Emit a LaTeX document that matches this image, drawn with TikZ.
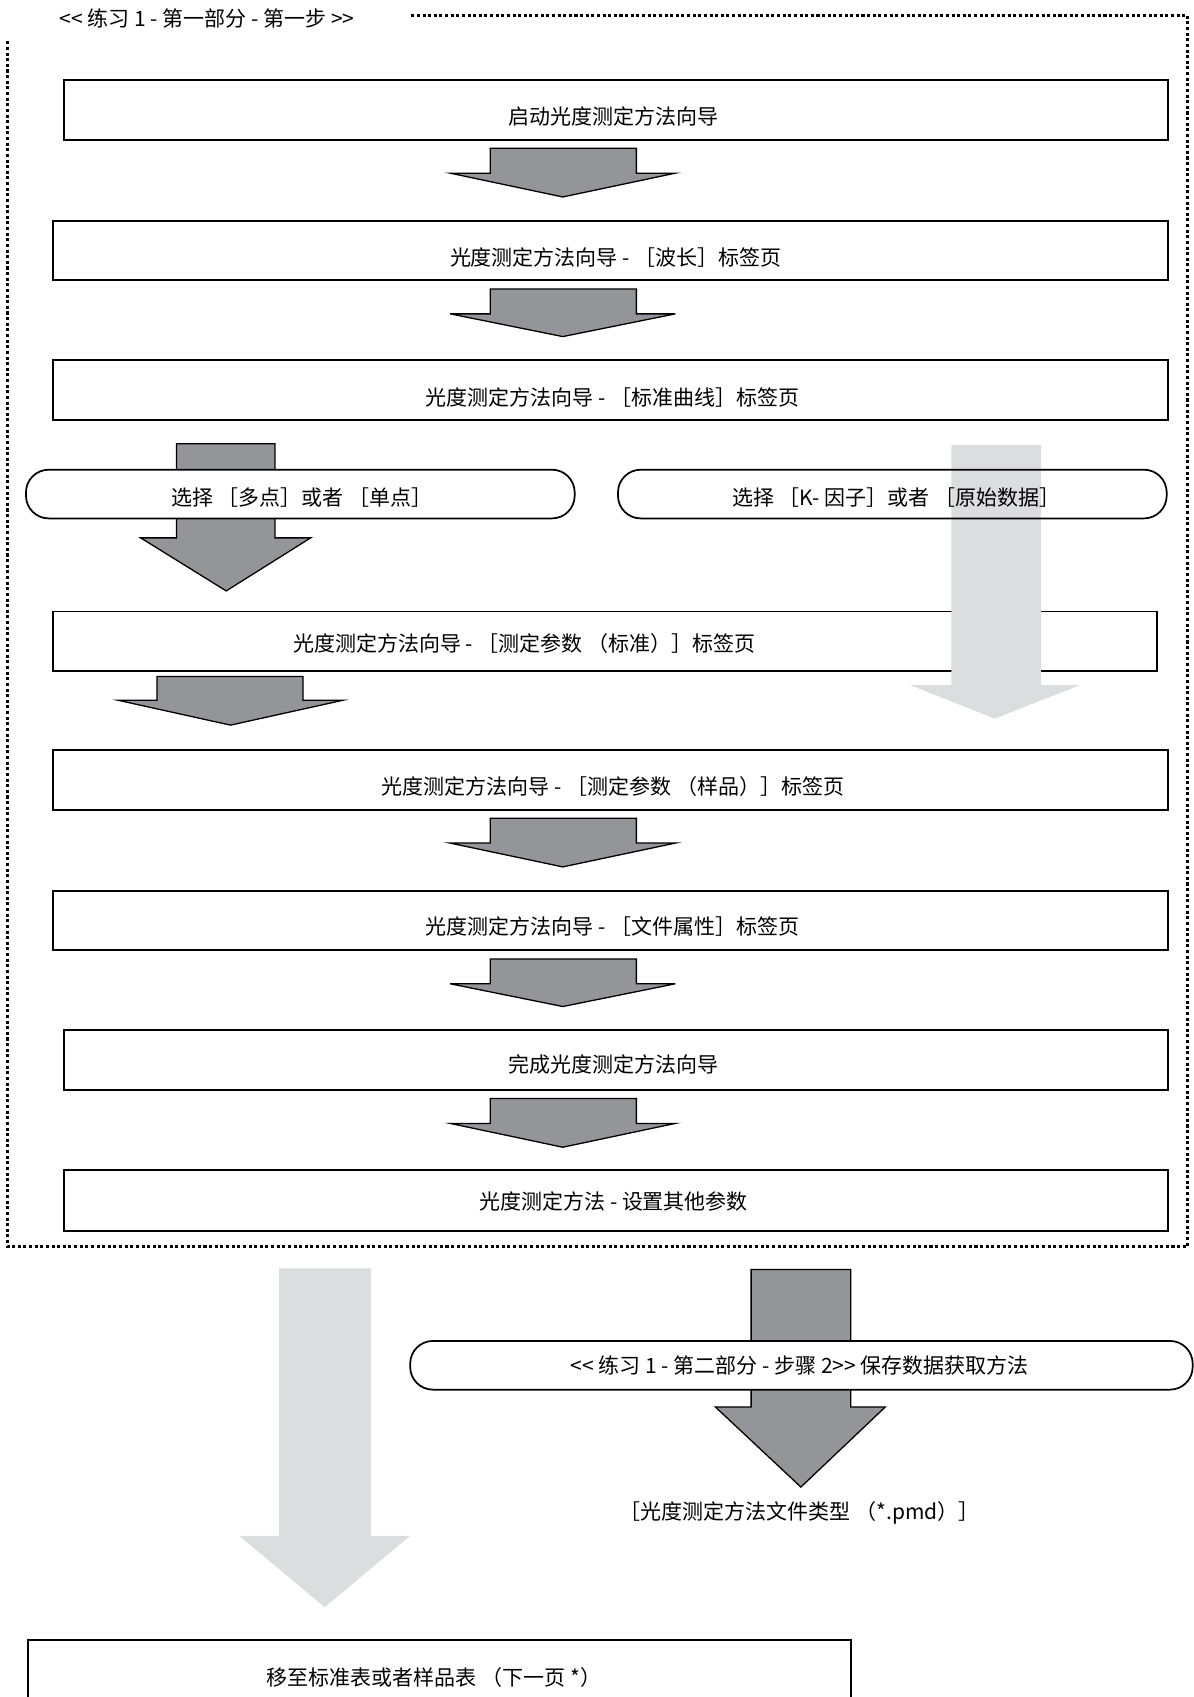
\documentclass[tikz,border=0pt]{standalone}
\usepackage{fontspec}
\newfontfamily\cjk{Noto Sans CJK SC}
\usetikzlibrary{fit}
\definecolor{darkarrow}{HTML}{939598}
\definecolor{lightarrow}{HTML}{DCDDDF}
\tikzset{
  box/.style={draw=black, line width=0.9pt, fill=white, inner sep=0pt},
  openbox/.style={draw=black, line width=0.9pt, inner sep=0pt},
  pill/.style={draw=black, line width=0.8pt, fill=white, rounded corners=10.5pt, inner sep=0pt},
  openpill/.style={draw=black, line width=0.8pt, rounded corners=10.5pt, inner sep=0pt},
  lbl/.style={font=\cjk\fontsize{9.7}{11}\selectfont, inner sep=0pt},
  frame/.style={line width=1.4pt, dash pattern=on 1.4pt off 1.2pt},
  darkarr/.style={fill=darkarrow, draw=black, line width=0.6pt, line join=miter},
  lightarr/.style={fill=lightarrow, draw=none},
}
% #1 style, #2 shaft left, #3 shaft right, #4 top, #5 shoulder, #6 head left, #7 head right, #8 tip x, #9 tip y
\newcommand{\blockarr}[9]{%
  \path[#1] (#2,#4) -- (#3,#4) -- (#3,#5) -- (#7,#5) -- (#8,#9) -- (#6,#5) -- (#2,#5) -- cycle;}
\begin{document}
\begin{tikzpicture}[x=0.5pt,y=-0.5pt]
\useasboundingbox (0,0) rectangle (1103,1568);
\clip (0,0) rectangle (1103,1568);

% dotted frame and its title
\draw[frame] (380,14) -- (1097,14) -- (1097,1152) -- (7,1152) -- (7,38);
\node[lbl] (title) at (191.5,17) {<< 练习 1 - 第一部分 - 第一步 >>};

% box 1
\node[box, fit={(59,74) (1079,129)}] (b1) {};
\node[lbl] (t1) at (567,108) {启动光度测定方法向导};
\blockarr{darkarr}{453}{588}{137}{160}{416}{624}{520}{182}

% box 2
\node[box, fit={(49,204) (1079,259)}] (b2) {};
\node[lbl] (t2) at (569,238) {光度测定方法向导 - ［波长］标签页};
\blockarr{darkarr}{453}{588}{267}{290}{416}{624}{520}{311}

% box 3
\node[box, fit={(49,333) (1079,388)}] (b3) {};
\node[lbl] (t3) at (566,367) {光度测定方法向导 - ［标准曲线］标签页};

% left branch
\blockarr{darkarr}{163}{254}{410}{497}{130}{287}{209}{546}
\node[pill, fit={(24,434) (531,479)}] (pl) {};
\node[lbl] (tl) at (279,460) {选择 ［多点］或者 ［单点］};

% box 4
\node[box, fit={(49,565) (1069,620)}] (b4) {};
\node[lbl] (t4) at (484.5,595) {光度测定方法向导 - ［测定参数 （标准）］标签页};

% right branch (light arrow over box 4, under the pill outline)
\blockarr{lightarr}{879}{962}{411}{633}{841}{998}{919}{664}
\node[openpill, fit={(571,434) (1078,479)}] (pr) {};
\node[lbl] (tr) at (828,460) {选择 ［K- 因子］或者 ［原始数据］};

\blockarr{darkarr}{145}{280}{625}{647}{109}{317}{213}{670}

% box 5
\node[box, fit={(49,693) (1079,748)}] (b5) {};
\node[lbl] (t5) at (566.5,727) {光度测定方法向导 - ［测定参数 （样品）］标签页};
\blockarr{darkarr}{453}{588}{756}{779}{416}{624}{520}{801}

% box 6
\node[box, fit={(49,823) (1079,878)}] (b6) {};
\node[lbl] (t6) at (566,856) {光度测定方法向导 - ［文件属性］标签页};
\blockarr{darkarr}{453}{588}{886}{909}{416}{624}{520}{930}

% box 7
\node[box, fit={(59,952) (1079,1007)}] (b7) {};
\node[lbl] (t7) at (567,984) {完成光度测定方法向导};
\blockarr{darkarr}{453}{588}{1015}{1038}{416}{624}{520}{1060}

% box 8
\node[box, fit={(59,1081) (1079,1137)}] (b8) {};
\node[lbl] (t8) at (567,1110) {光度测定方法 - 设置其他参数};

% lower part
\blockarr{lightarr}{258}{343}{1172}{1419}{221}{379}{300}{1485}
\blockarr{darkarr}{694}{786}{1173}{1300}{661}{818}{740}{1374}
\node[pill, fit={(379,1239) (1102,1284)}] (ps) {};
\node[lbl] (ts) at (739,1262) {<< 练习 1 - 第二部分 - 步骤 2>> 保存数据获取方法};
\node[lbl] (tp) at (739,1398) {［光度测定方法文件类型 （*.pmd）］};

% box 9 (cut by the lower edge)
\node[box, fit={(26,1515) (786,1590)}] (b9) {};
\node[lbl] (t9) at (401,1550) {移至标准表或者样品表 （下一页 *）};
\end{tikzpicture}
\end{document}
